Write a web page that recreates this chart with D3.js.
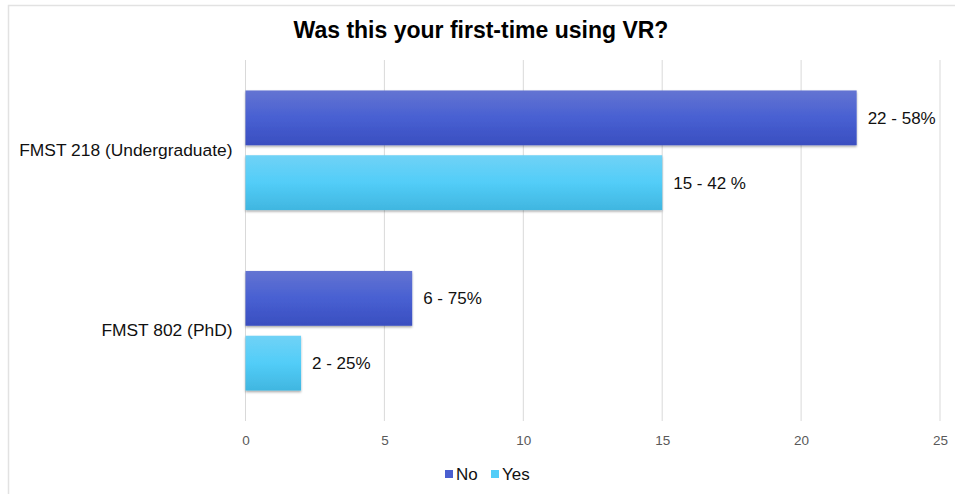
<!DOCTYPE html>
<html>
<head>
<meta charset="utf-8">
<script src="https://cdn.jsdelivr.net/npm/d3@7"></script>
<style>
  html, body { margin: 0; padding: 0; background: #fff; }
  svg { display: block; font-family: "Liberation Sans", Arial, Helvetica, sans-serif; }
</style>
</head>
<body>
<svg id="chart" width="955" height="494"></svg>
<script>
// Survey responses per course
const categories = ["FMST 218 (Undergraduate)", "FMST 802 (PhD)"];
const seriesNames = ["No", "Yes"];
const noValues = [22, 6];
const yesValues = [15, 2];
const noLabels = ["22 - 58%", "6 - 75%"];
const yesLabels = ["15 - 42 %", "2 - 25%"];
const xTicks = [0, 5, 10, 15, 20, 25];

const svg = d3.select("#chart");
const W = 955, H = 494;
const margin = { top: 60, right: 15, bottom: 73, left: 245.5 };

// outer frame
svg.append("rect")
  .attr("x", 8.5).attr("y", 5.5)
  .attr("width", W).attr("height", H)
  .attr("fill", "#fff")
  .attr("stroke", "#e2e2e2").attr("stroke-width", 1.5);

const defs = svg.append("defs");
const gradNo = defs.append("linearGradient").attr("id", "gNo")
  .attr("x1", 0).attr("y1", 0).attr("x2", 0).attr("y2", 1);
gradNo.append("stop").attr("offset", "0%").attr("stop-color", "#6474d2");
gradNo.append("stop").attr("offset", "50%").attr("stop-color", "#4860d2");
gradNo.append("stop").attr("offset", "100%").attr("stop-color", "#3a4ec0");
const gradYes = defs.append("linearGradient").attr("id", "gYes")
  .attr("x1", 0).attr("y1", 0).attr("x2", 0).attr("y2", 1);
gradYes.append("stop").attr("offset", "0%").attr("stop-color", "#70d2f6");
gradYes.append("stop").attr("offset", "50%").attr("stop-color", "#52cdf8");
gradYes.append("stop").attr("offset", "100%").attr("stop-color", "#40b6e0");

const shadow = defs.append("filter").attr("id", "shadow")
  .attr("x", "-5%").attr("y", "-10%").attr("width", "115%").attr("height", "130%");
shadow.append("feDropShadow")
  .attr("dx", 0).attr("dy", 1.5).attr("stdDeviation", 1.2)
  .attr("flood-color", "#000").attr("flood-opacity", 0.35);

const x = d3.scaleLinear().domain([0, 25]).range([margin.left, W - margin.right]);
const y = d3.scaleBand().domain(categories).range([margin.top, H - margin.bottom]).paddingInner(0).paddingOuter(0);
const ySub = d3.scaleBand().domain(seriesNames).range([0, y.bandwidth()]).paddingInner(0.154).paddingOuter(0.47);

// gridlines
svg.append("g")
  .selectAll("line")
  .data(xTicks)
  .join("line")
  .attr("x1", d => x(d)).attr("x2", d => x(d))
  .attr("y1", margin.top).attr("y2", H - margin.bottom)
  .attr("stroke", "#d9d9d9").attr("stroke-width", 1);

// x axis tick labels
const xAxis = d3.axisBottom(x).tickValues(xTicks).tickSize(0).tickPadding(14);
const gx = svg.append("g")
  .attr("transform", `translate(0,${H - margin.bottom})`)
  .call(xAxis);
gx.select(".domain").remove();
gx.selectAll("text")
  .attr("fill", "#595959")
  .style("font-size", "13.5px")
  .style("font-family", "'Liberation Sans', Arial, sans-serif");

// y axis category labels
const yAxis = d3.axisLeft(y).tickSize(0).tickPadding(13);
const gy = svg.append("g")
  .attr("transform", `translate(${margin.left},0)`)
  .call(yAxis);
gy.select(".domain").remove();
gy.selectAll("text")
  .attr("fill", "#111")
  .style("font-size", "17.4px")
  .style("font-family", "'Liberation Sans', Arial, sans-serif");

const rows = categories.map((c, i) => ({
  cat: c,
  items: [
    { key: "No", value: noValues[i], label: noLabels[i], fill: "url(#gNo)" },
    { key: "Yes", value: yesValues[i], label: yesLabels[i], fill: "url(#gYes)" }
  ]
}));

const groups = svg.append("g").selectAll("g")
  .data(rows)
  .join("g")
  .attr("transform", d => `translate(0,${y(d.cat)})`);

groups.selectAll("rect")
  .data(d => d.items)
  .join("rect")
  .attr("x", x(0))
  .attr("y", d => ySub(d.key))
  .attr("width", d => x(d.value) - x(0))
  .attr("height", ySub.bandwidth())
  .attr("fill", d => d.fill)
  .attr("filter", "url(#shadow)");

groups.selectAll("text.val")
  .data(d => d.items)
  .join("text")
  .attr("class", "val")
  .attr("x", d => x(d.value) + 11)
  .attr("y", d => ySub(d.key) + ySub.bandwidth() / 2)
  .attr("dy", "0.35em")
  .attr("fill", "#111")
  .style("font-size", "17px")
  .text(d => d.label);

// title
svg.append("text")
  .attr("x", 481).attr("y", 38)
  .attr("text-anchor", "middle")
  .style("font-size", "23px")
  .style("font-weight", "bold")
  .attr("fill", "#000")
  .text("Was this your first-time using VR?");

// legend
const legendColors = { No: "#4a5fd0", Yes: "#52cdf8" };
const legendX = [445, 491];
const legend = svg.append("g").attr("transform", "translate(0,474)");
seriesNames.forEach((s, i) => {
  legend.append("rect")
    .attr("x", legendX[i]).attr("y", -4)
    .attr("width", 8).attr("height", 8)
    .attr("fill", legendColors[s]);
  legend.append("text")
    .attr("x", legendX[i] + 11).attr("y", 0)
    .attr("dy", "0.35em")
    .attr("fill", "#111")
    .style("font-size", "17px")
    .text(s);
});
</script>
</body>
</html>
